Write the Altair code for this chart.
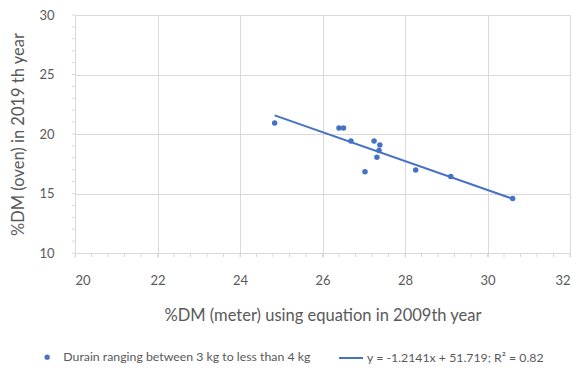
import altair as alt
import pandas as pd

# ---- data ----
dm_meter = [24.84, 26.40, 26.51, 26.69, 27.25, 27.39, 27.37, 27.32, 27.03, 28.26, 29.11, 30.61]
dm_oven = [20.92, 20.50, 20.50, 19.42, 19.42, 19.08, 18.61, 18.05, 16.83, 16.97, 16.42, 14.58]
series_points = "Durain ranging between 3 kg to less than 4 kg"
series_trend = "y = -1.2141x + 51.719; R² = 0.82"
slope = -1.2141
intercept = 51.719
x_ticks = [20, 22, 24, 26, 28, 30, 32]
y_ticks = [10, 15, 20, 25, 30]
x_minor = [20 + 0.4 * i for i in range(31)]
y_minor = [10 + 1.0 * i for i in range(21)]

BLUE = "#4472C4"
GRID = "#d9d9d9"
TXT = "#595959"
FONT = "Lato"
W, H = 495, 238

df = pd.DataFrame({"x": dm_meter, "y": dm_oven, "s": series_points})
df_trend = pd.DataFrame({"x": [min(dm_meter), max(dm_meter)], "t": series_trend})
df_xm = pd.DataFrame({"v": x_minor})
df_ym = pd.DataFrame({"v": y_minor})

xscale = alt.Scale(domain=[20, 32], nice=False, zero=False)
yscale = alt.Scale(domain=[10, 30], nice=False, zero=False)

xaxis = alt.Axis(
    values=x_ticks, grid=True, gridColor=GRID, domainColor=GRID, tickColor=GRID,
    tickSize=4, labelPadding=17, labelFontSize=13, labelColor=TXT, labelFont=FONT,
    title="%DM (meter) using equation in 2009th year", titleFont=FONT,
    titleFontSize=16.5, titleFontWeight="normal", titleColor=TXT, titlePadding=20,
)
yaxis = alt.Axis(
    values=y_ticks, grid=True, gridColor=GRID, domainColor=GRID, tickColor=GRID,
    tickSize=0, labelPadding=21, labelFontSize=13, labelColor=TXT, labelFont=FONT,
    title="%DM (oven) in 2019 th year", titleFont=FONT,
    titleFontSize=16.5, titleFontWeight="normal", titleColor=TXT, titlePadding=12,
)

points = alt.Chart(df).mark_circle(size=30, opacity=1).encode(
    x=alt.X("x:Q", scale=xscale, axis=xaxis),
    y=alt.Y("y:Q", scale=yscale, axis=yaxis),
    color=alt.Color(
        "s:N", scale=alt.Scale(range=[BLUE]),
        legend=alt.Legend(
            title=None, orient="none", legendX=-34, legendY=336,
            symbolSize=28, symbolType="circle", labelOffset=10, labelLimit=0,
            labelFontSize=12.3, labelColor=TXT, labelFont=FONT,
        ),
    ),
)

trend = alt.Chart(df_trend).transform_calculate(
    fit=f"{slope} * datum.x + {intercept}"
).mark_line(strokeWidth=2).encode(
    x=alt.X("x:Q", scale=xscale),
    y=alt.Y("fit:Q", scale=yscale),
    color=alt.Color(
        "t:N", scale=alt.Scale(range=[BLUE]),
        legend=alt.Legend(
            title=None, orient="none", legendX=263, legendY=330,
            symbolSize=576, symbolStrokeWidth=2, labelOffset=3, labelLimit=0,
            labelFontSize=12.3, labelColor=TXT, labelFont=FONT,
        ),
    ),
)

xminor = alt.Chart(df_xm).mark_rule(color=GRID, strokeWidth=1).encode(
    x=alt.X("v:Q", scale=xscale), y=alt.value(H), y2=alt.value(H + 4)
)
yminor = alt.Chart(df_ym).mark_rule(color=GRID, strokeWidth=1).encode(
    y=alt.Y("v:Q", scale=yscale), x=alt.value(-3), x2=alt.value(0)
)

chart = alt.layer(xminor, yminor, trend, points).resolve_scale(
    color="independent"
).properties(
    width=W, height=H,
    autosize=alt.AutoSizeParams(type="none"),
    padding={"left": 75, "top": 15, "right": 10, "bottom": 121},
    background="white",
).configure_view(stroke=None)

chart.save("out.html", embed_options={"renderer": "svg", "actions": False})
